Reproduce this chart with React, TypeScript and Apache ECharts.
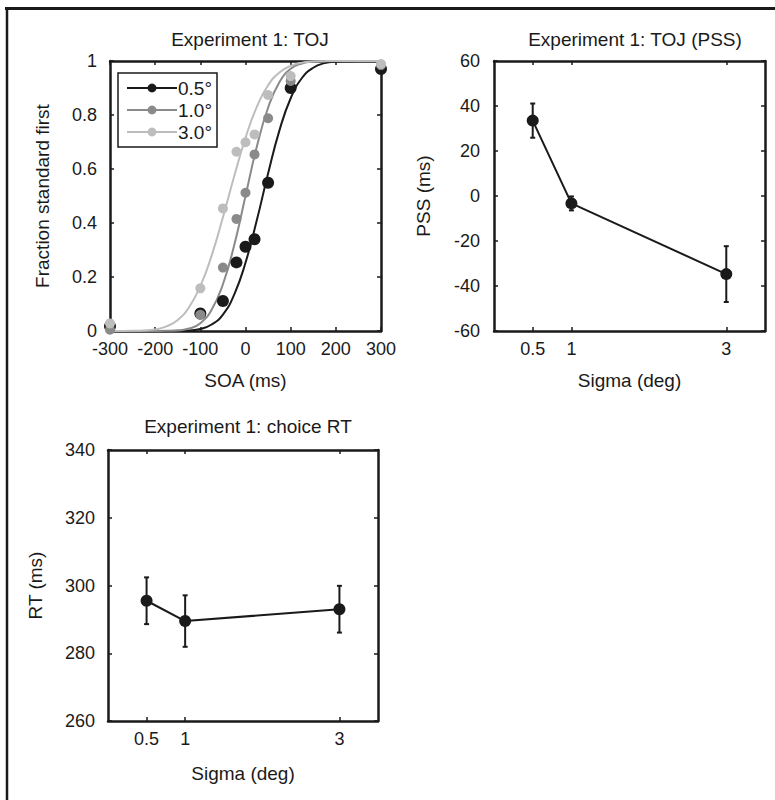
import React, { useEffect, useRef } from "react";
import * as echarts from "echarts";

// ---- Panel 1: TOJ psychometric data ----
const soaPoints = [-300, -100, -50, -20, 0, 20, 50, 100, 300];
const frac05 = [0.018, 0.065, 0.111, 0.254, 0.312, 0.34, 0.549, 0.9, 0.97];
const frac10 = [0.005, 0.06, 0.235, 0.415, 0.512, 0.654, 0.788, 0.926, 0.985];
const frac30 = [0.028, 0.158, 0.454, 0.664, 0.699, 0.728, 0.874, 0.944, 0.989];

// fitted curves
const fitX = [-300, -275, -250, -225, -200, -175, -150, -125, -100, -75, -50, -25, 0, 25, 50, 75, 100, 125, 150, 175, 200, 225, 250, 275, 300];
const fit05 = [0, 0, 0, 0, 0, 0.0001, 0.0005, 0.0021, 0.0078, 0.024, 0.061, 0.135, 0.253, 0.41, 0.583, 0.742, 0.862, 0.937, 0.975, 0.992, 0.998, 0.9995, 1, 1, 1];
const fit10 = [0, 0, 0, 0, 0.0001, 0.0005, 0.0023, 0.009, 0.029, 0.079, 0.173, 0.318, 0.5, 0.682, 0.827, 0.921, 0.971, 0.991, 0.998, 0.9995, 1, 1, 1, 1, 1];
const fit30 = [0, 0.0001, 0.0005, 0.0019, 0.006, 0.017, 0.041, 0.088, 0.166, 0.279, 0.421, 0.573, 0.715, 0.83, 0.91, 0.957, 0.982, 0.994, 0.998, 0.9994, 1, 1, 1, 1, 1];

const legendNames = ["0.5°", "1.0°", "3.0°"];

// ---- Panel 2 & 3 ----
const sigmaValues = [0.5, 1, 3];
const pssMean = [33.5, -3.3, -34.7];
const pssErr = [7.6, 3.1, 12.4];
const rtMean = [295.5, 289.5, 293];
const rtErr = [6.9, 7.6, 6.9];

const FONT = "Liberation Sans, Arial, Helvetica, sans-serif";
const INK = "#1a1a1a";
const GREY = "#8a8a8a";
const LIGHT = "#bdbdbd";

const frameLine = { show: true, onZero: false, lineStyle: { color: INK, width: 2.5 } };
const inTick = { show: true, inside: true, length: 4, lineStyle: { color: INK, width: 1.5 } };
const labelStyle = { color: INK, fontSize: 18, fontFamily: FONT };
const nameStyle = { color: INK, fontSize: 19, fontFamily: FONT };
const titleStyle = { fontSize: 19, fontWeight: "normal", color: INK, fontFamily: FONT };

function zip(xs: number[], ys: number[]) {
  return xs.map((x, i) => [x, ys[i]]);
}

function errorBar(params: any, api: any) {
  const x = api.value(0);
  const lo = api.value(1);
  const hi = api.value(2);
  const top = api.coord([x, hi]);
  const bot = api.coord([x, lo]);
  const cap = 2.5;
  const st = { stroke: INK, lineWidth: 2 };
  return {
    type: "group",
    children: [
      { type: "line", shape: { x1: top[0], y1: top[1], x2: bot[0], y2: bot[1] }, style: st },
      { type: "line", shape: { x1: top[0] - cap, y1: top[1], x2: top[0] + cap, y2: top[1] }, style: st },
      { type: "line", shape: { x1: bot[0] - cap, y1: bot[1], x2: bot[0] + cap, y2: bot[1] }, style: st },
    ],
  };
}

function valueAxes(opts: any) {
  const { grid, min, max, interval, name, nameGap, labelMargin, custom, position } = opts;
  const main: any = {
    type: "value",
    gridIndex: grid,
    position,
    min,
    max,
    name,
    nameLocation: "middle",
    nameGap,
    nameTextStyle: nameStyle,
    axisLine: frameLine,
    axisTick: custom ? { ...inTick, customValues: custom } : inTick,
    axisLabel: custom
      ? { ...labelStyle, margin: labelMargin, customValues: custom }
      : { ...labelStyle, margin: labelMargin },
    splitLine: { show: false },
  };
  if (interval !== undefined) main.interval = interval;
  const other: any = {
    type: "value",
    gridIndex: grid,
    position: position === "bottom" ? "top" : "right",
    min,
    max,
    axisLine: frameLine,
    axisTick: custom ? { ...inTick, customValues: custom } : inTick,
    axisLabel: { show: false },
    splitLine: { show: false },
  };
  if (interval !== undefined) other.interval = interval;
  return [main, other];
}

export default function App() {
  const ref = useRef<HTMLDivElement>(null);

  useEffect(() => {
    if (!ref.current) return;
    const chart = echarts.init(ref.current, undefined, { renderer: "svg" });

    const xAxis = [
      ...valueAxes({ grid: 0, min: -300, max: 300, interval: 100, name: "SOA (ms)", nameGap: 40, labelMargin: 9, position: "bottom" }),
      ...valueAxes({ grid: 1, min: 0, max: 3.5, name: "Sigma (deg)", nameGap: 40, labelMargin: 9, custom: sigmaValues, position: "bottom" }),
      ...valueAxes({ grid: 2, min: 0, max: 3.5, name: "Sigma (deg)", nameGap: 43, labelMargin: 9, custom: sigmaValues, position: "bottom" }),
    ];
    const yAxis = [
      ...valueAxes({ grid: 0, min: 0, max: 1, interval: 0.2, name: "Fraction standard first", nameGap: 58, labelMargin: 13, position: "left" }),
      ...valueAxes({ grid: 1, min: -60, max: 60, interval: 20, name: "PSS (ms)", nameGap: 61, labelMargin: 14, position: "left" }),
      ...valueAxes({ grid: 2, min: 260, max: 340, interval: 20, name: "RT (ms)", nameGap: 63, labelMargin: 13, position: "left" }),
    ];

    const fitSeries = (name: string, ys: number[], color: string) => ({
      type: "line",
      name,
      xAxisIndex: 0,
      yAxisIndex: 0,
      data: zip(fitX, ys),
      smooth: 0.5,
      symbol: "circle",
      showSymbol: false,
      lineStyle: { color, width: 2 },
      itemStyle: { color },
      z: 2,
    });
    const pointSeries = (name: string, ys: number[], color: string, size: number) => ({
      type: "scatter",
      name,
      xAxisIndex: 0,
      yAxisIndex: 0,
      data: zip(soaPoints, ys),
      symbol: "circle",
      symbolSize: size,
      itemStyle: { color, opacity: 1 },
      z: 3,
    });

    chart.setOption({
      animation: false,
      backgroundColor: "#ffffff",
      textStyle: { fontFamily: FONT },
      title: [
        { text: "Experiment 1: TOJ", left: 245, top: 25, textAlign: "center", textStyle: titleStyle },
        { text: "Experiment 1: TOJ (PSS)", left: 630, top: 25, textAlign: "center", textStyle: titleStyle },
        { text: "Experiment 1: choice RT", left: 243, top: 412, textAlign: "center", textStyle: titleStyle },
      ],
      grid: [
        { left: 110, top: 61, width: 271, height: 270 },
        { left: 494, top: 61, width: 271, height: 270 },
        { left: 108, top: 450, width: 270, height: 271 },
      ],
      legend: {
        data: legendNames,
        orient: "vertical",
        left: 118,
        top: 73,
        padding: [4, 5, 4, 8],
        itemWidth: 50,
        itemHeight: 11,
        itemGap: 0,
        selectedMode: false,
        borderColor: INK,
        borderWidth: 1.5,
        backgroundColor: "#ffffff",
        textStyle: { color: INK, fontSize: 19, fontFamily: FONT, lineHeight: 22, padding: [0, 0, 0, -4] },
        z: 10,
      },
      xAxis,
      yAxis,
      graphic: [
        { type: "line", shape: { x1: 5, y1: 8.5, x2: 775, y2: 8.5 }, style: { stroke: INK, lineWidth: 3 } },
        { type: "line", shape: { x1: 7, y1: 7, x2: 7, y2: 800 }, style: { stroke: INK, lineWidth: 2.5 } },
      ],
      series: [
        fitSeries(legendNames[0], fit05, INK),
        fitSeries(legendNames[1], fit10, GREY),
        fitSeries(legendNames[2], fit30, LIGHT),
        pointSeries("pts 0.5", frac05, INK, 12),
        pointSeries("pts 1.0", frac10, GREY, 10),
        pointSeries("pts 3.0", frac30, LIGHT, 10),
        {
          type: "custom",
          name: "PSS error",
          xAxisIndex: 2,
          yAxisIndex: 2,
          renderItem: errorBar,
          data: sigmaValues.map((s, i) => [s, pssMean[i] - pssErr[i], pssMean[i] + pssErr[i]]),
          z: 2,
        },
        {
          type: "line",
          name: "PSS",
          xAxisIndex: 2,
          yAxisIndex: 2,
          data: zip(sigmaValues, pssMean),
          symbol: "circle",
          symbolSize: 12,
          lineStyle: { color: INK, width: 2 },
          itemStyle: { color: INK },
          z: 3,
        },
        {
          type: "custom",
          name: "RT error",
          xAxisIndex: 4,
          yAxisIndex: 4,
          renderItem: errorBar,
          data: sigmaValues.map((s, i) => [s, rtMean[i] - rtErr[i], rtMean[i] + rtErr[i]]),
          z: 2,
        },
        {
          type: "line",
          name: "RT",
          xAxisIndex: 4,
          yAxisIndex: 4,
          data: zip(sigmaValues, rtMean),
          symbol: "circle",
          symbolSize: 12,
          lineStyle: { color: INK, width: 2 },
          itemStyle: { color: INK },
          z: 3,
        },
      ],
    });

    return () => chart.dispose();
  }, []);

  return (
    <div
      ref={ref}
      style={{ position: "absolute", left: 0, top: 0, width: 775, height: 800, background: "#fff" }}
    />
  );
}
